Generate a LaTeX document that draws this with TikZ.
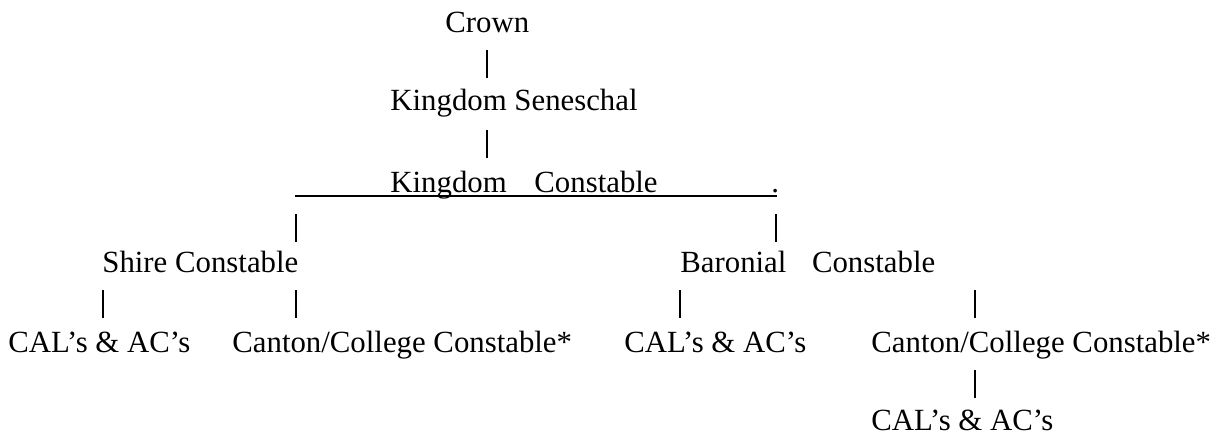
\documentclass[tikz,border=0pt]{standalone}
\usepackage{fontspec}
\setmainfont{Liberation Serif}

\begin{document}
\begin{tikzpicture}[x=0.5pt,y=-0.5pt,
  every node/.style={inner sep=0pt,anchor=base west,font=\fontsize{15.4}{18}\selectfont},
  bar/.style={line width=0.55pt}]
\useasboundingbox (0,0) rectangle (1223,436);

\coordinate (B1t) at (487,50);
\coordinate (B1b) at (487,78);
\coordinate (B2t) at (487,130);
\coordinate (B2b) at (487,158);
\coordinate (UL) at (295,196);
\coordinate (UR) at (777,196);
\coordinate (B3t) at (296,214);
\coordinate (B3b) at (296,242);
\coordinate (B4t) at (776,214);
\coordinate (B4b) at (776,242);
\coordinate (B5t) at (103,290);
\coordinate (B5b) at (103,318);
\coordinate (B6t) at (296,290);
\coordinate (B6b) at (296,318);
\coordinate (B7t) at (680,290);
\coordinate (B7b) at (680,318);
\coordinate (B8t) at (975,290);
\coordinate (B8b) at (975,318);
\coordinate (B9t) at (975,370);
\coordinate (B9b) at (975,398);

\node (crown) at (445,32) {Crown};
\node (seneschal) at (390,110) {Kingdom Seneschal};
\node (kconst) at (390,192) {Kingdom\hspace{0.9em}Constable};
\node (dot) at (771,192) {.};
\node (shire) at (102,272) {Shire Constable};
\node (baron) at (680,272) {Baronial\hspace{0.83em}Constable};
\node (calA) at (8,352) {CAL’s \& AC’s};
\node (cantonA) at (232,352) {Canton/College Constable*};
\node (calB) at (624,352) {CAL’s \& AC’s};
\node (cantonB) at (871,352) {Canton/College Constable*};
\node (calC) at (871,430) {CAL’s \& AC’s};

\draw[bar] (B1t) -- (B1b);
\draw[bar] (B2t) -- (B2b);
\draw[line width=0.7pt] (UL) -- (UR);
\draw[bar] (B3t) -- (B3b);
\draw[bar] (B4t) -- (B4b);
\draw[bar] (B5t) -- (B5b);
\draw[bar] (B6t) -- (B6b);
\draw[bar] (B7t) -- (B7b);
\draw[bar] (B8t) -- (B8b);
\draw[bar] (B9t) -- (B9b);
\end{tikzpicture}
\end{document}
